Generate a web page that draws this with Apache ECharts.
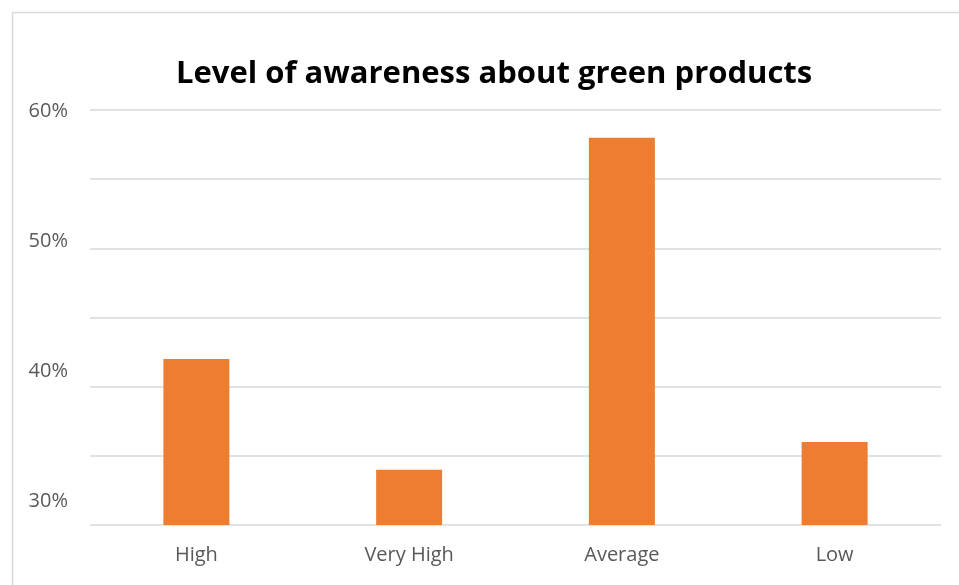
<!DOCTYPE html>
<html>
<head>
<meta charset="utf-8">
<script src="https://cdn.jsdelivr.net/npm/echarts@6/dist/echarts.min.js"></script>
<style>
html, body { margin: 0; padding: 0; background: #fff }
#chart { width: 959px; height: 585px }
</style>
</head>
<body>
<div id="chart"></div>
<script>
const categories = ['High', 'Very High', 'Average', 'Low']
const awareness = [42, 34, 58, 36]
const tickLabels = [30, 40, 50, 60]

const chart = echarts.init(document.getElementById('chart'))
chart.setOption({
  animation: false,
  title: {
    text: 'Level of awareness about green products',
    left: 171, top: 54,
    textStyle: { fontFamily: 'Open Sans', fontWeight: 'bold', fontSize: 31, color: '#000' }
  },
  graphic: [{
    type: 'rect', left: 10, top: 10,
    shape: { width: 960, height: 600 },
    style: { fill: 'none', stroke: '#d9d9d9', lineWidth: 1.5 }
  }],
  grid: [
    { left: 90, right: 18, top: 110, bottom: 60 },
    // labels sit on their own spacing in the reference
    { left: 90, right: 18, top: 111, height: 390 }
  ],
  xAxis: [
    {
      type: 'category', gridIndex: 0, data: categories,
      axisLine: { show: false }, axisTick: { show: false },
      axisLabel: { color: '#595959', fontSize: 20, fontFamily: 'Open Sans', margin: 20 }
    },
    { type: 'category', gridIndex: 1, data: categories, show: false }
  ],
  yAxis: [
    {
      type: 'value', gridIndex: 0, min: 30, max: 60, interval: 5,
      axisLabel: { show: false }, axisLine: { show: false }, axisTick: { show: false },
      splitLine: { lineStyle: { color: '#d9d9d9', width: 1.5 } }
    },
    {
      type: 'value', gridIndex: 1, min: 30, max: 60, interval: 10,
      axisLine: { show: false }, axisTick: { show: false }, splitLine: { show: false },
      axisLabel: {
        color: '#595959', fontSize: 20, fontFamily: 'Open Sans', margin: 22,
        formatter: v => tickLabels.includes(v) ? v + '%' : ''
      }
    }
  ],
  series: [{
    type: 'bar', xAxisIndex: 0, yAxisIndex: 0,
    data: awareness, barWidth: 66,
    itemStyle: { color: '#ed7d31' }
  }]
})
</script>
</body>
</html>
